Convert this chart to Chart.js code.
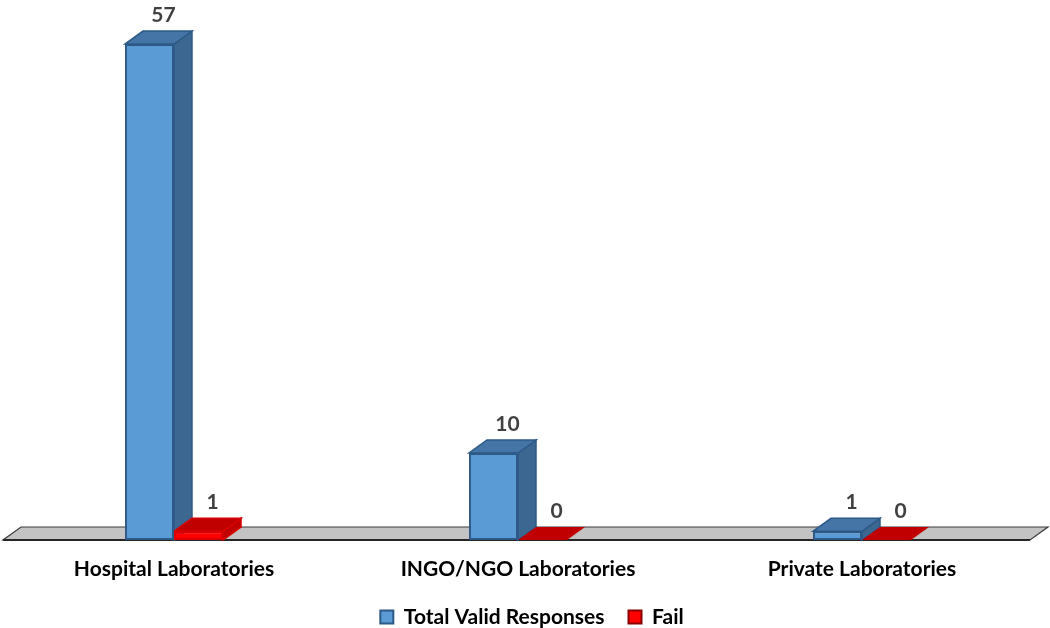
<!DOCTYPE html>
<html>
<head>
<meta charset="utf-8">
<script src="https://cdn.jsdelivr.net/npm/chart.js@4.4.1/dist/chart.umd.min.js"></script>
<style>
  html, body { margin: 0; padding: 0; background: #ffffff; }
  #wrap { width: 1050px; height: 628px; }
</style>
</head>
<body>
<div id="wrap"><canvas id="chart" width="1050" height="628"></canvas></div>
<script>
// Laboratory categories and response counts
const categories = ['Hospital Laboratories', 'INGO/NGO Laboratories', 'Private Laboratories'];
const totalValid = [57, 10, 1];
const fail = [1, 0, 0];

// Colours for each face of the pseudo-3D columns
const faces = [
  { front: '#5B9BD5', border: '#2C5986', side: '#3B6791', top: '#4575A6' },
  { front: '#FF0000', border: '#D80000', side: '#C00000', top: '#C00000' }
];
const DEPTH_X = 18, DEPTH_Y = 13;
const FONT = 'Lato, "Open Sans", sans-serif';
const LEGEND_SHIFT = 14;
const X_AXIS_HEIGHT = 42.5;

function poly(ctx, pts, fill, stroke, lw) {
  ctx.beginPath();
  ctx.moveTo(pts[0][0], pts[0][1]);
  for (let i = 1; i < pts.length; i++) ctx.lineTo(pts[i][0], pts[i][1]);
  ctx.closePath();
  ctx.fillStyle = fill;
  ctx.fill();
  if (stroke) { ctx.strokeStyle = stroke; ctx.lineWidth = lw || 1; ctx.stroke(); }
}

// Floor, side and top faces behind the library-drawn front faces
const depthPlugin = {
  id: 'depth3d',
  afterLayout(chart) {
    if (chart.legend) { chart.legend.left += LEGEND_SHIFT; chart.legend.right += LEGEND_SHIFT; }
  },
  beforeDatasetsDraw(chart) {
    const ctx = chart.ctx;
    const area = chart.chartArea;
    const base = chart.scales.y.getPixelForValue(0);
    const l = area.left + 1, r = area.right - 4;
    ctx.save();
    poly(ctx, [[l, base], [r, base], [r + DEPTH_X, base - DEPTH_Y], [l + DEPTH_X, base - DEPTH_Y]], '#C3C3C3', '#3A3A3A', 1.2);
    ctx.beginPath();
    ctx.moveTo(l, base); ctx.lineTo(r, base);
    ctx.strokeStyle = '#262626'; ctx.lineWidth = 2.2; ctx.stroke();
    const metas = chart.data.datasets.map((d, i) => chart.getDatasetMeta(i));
    for (let i = 0; i < categories.length; i++) {
      metas.forEach((meta, d) => {
        const bar = meta.data[i];
        const p = bar.getProps(['x', 'y', 'base', 'width'], true);
        const left = p.x - p.width / 2, right = p.x + p.width / 2;
        const top = Math.min(p.y, p.base), bottom = Math.max(p.y, p.base);
        const f = faces[d];
        const edge = chart.data.datasets[d].data[i] === 0 ? null : f.border;
        if (bottom - top > 0.5) {
          poly(ctx, [[right, top], [right + DEPTH_X, top - DEPTH_Y], [right + DEPTH_X, bottom - DEPTH_Y], [right, bottom]], f.side, edge, 1.5);
        }
        poly(ctx, [[left, top], [right, top], [right + DEPTH_X, top - DEPTH_Y], [left + DEPTH_X, top - DEPTH_Y]], f.top, edge, 1.5);
      });
    }
    ctx.restore();
  },
  afterDatasetsDraw(chart) {
    const ctx = chart.ctx;
    ctx.save();
    ctx.font = 'bold 21px ' + FONT;
    ctx.fillStyle = '#404040';
    ctx.textAlign = 'center';
    ctx.textBaseline = 'middle';
    chart.data.datasets.forEach((ds, d) => {
      const meta = chart.getDatasetMeta(d);
      meta.data.forEach((bar, i) => {
        const p = bar.getProps(['x', 'y'], true);
        ctx.fillText(String(ds.data[i]), p.x + 14, p.y - 29);
      });
    });
    ctx.restore();
  }
};

new Chart(document.getElementById('chart'), {
  type: 'bar',
  data: {
    labels: categories,
    datasets: [
      {
        label: 'Total Valid Responses',
        data: totalValid,
        backgroundColor: faces[0].front,
        borderColor: faces[0].border,
        borderWidth: c => (c.raw === 0 ? 0 : 2),
        borderSkipped: false,
        barPercentage: 1,
        categoryPercentage: 0.285
      },
      {
        label: 'Fail',
        data: fail,
        backgroundColor: faces[1].front,
        borderColor: faces[1].border,
        borderWidth: c => (c.raw === 0 ? 0 : 2),
        borderSkipped: false,
        barPercentage: 1,
        categoryPercentage: 0.285
      }
    ]
  },
  options: {
    responsive: false,
    animation: false,
    layout: { padding: { top: 18, left: 2, right: 16, bottom: -9.5 } },
    scales: {
      x: {
        grid: { display: false, drawTicks: false, tickLength: 0 },
        border: { display: false },
        ticks: { color: '#000000', font: { family: FONT, size: 21, weight: 'bold' }, padding: 17 },
        afterFit(scale) { scale.height = X_AXIS_HEIGHT; }
      },
      y: {
        display: false,
        min: 0,
        max: 60
      }
    },
    plugins: {
      legend: {
        position: 'bottom',
        labels: {
          color: '#000000',
          font: { family: FONT, size: 21, weight: 'bold' },
          boxWidth: 13,
          boxHeight: 13,
          padding: 24,
          generateLabels(chart) {
            return chart.data.datasets.map((ds, i) => ({
              text: ds.label,
              fillStyle: ds.backgroundColor,
              strokeStyle: i === 0 ? '#2C5986' : '#8B0000',
              lineWidth: 2,
              hidden: false,
              datasetIndex: i,
              fontColor: '#000000'
            }));
          }
        }
      },
      tooltip: { enabled: false }
    }
  },
  plugins: [depthPlugin]
});
</script>
</body>
</html>
